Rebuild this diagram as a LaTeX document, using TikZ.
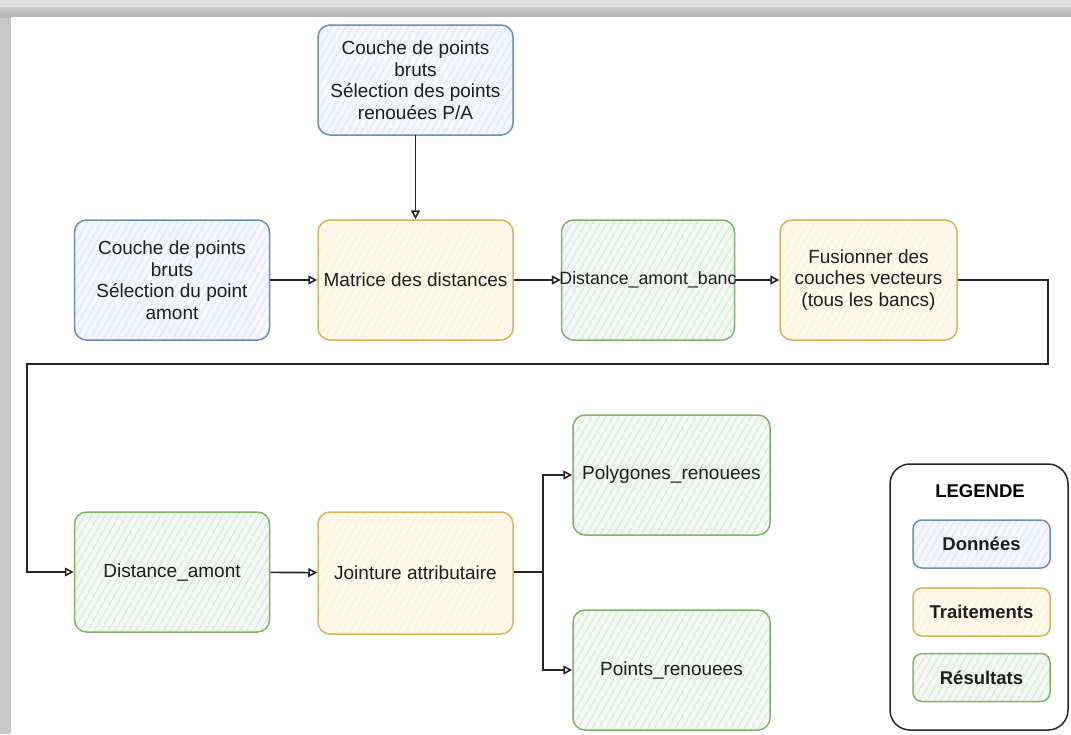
\documentclass[tikz,border=0pt]{standalone}
\usepackage{fontspec}
\setmainfont{Liberation Sans}
\usetikzlibrary{arrows.meta,patterns.meta}
\definecolor{bS}{HTML}{6C8EBF}\definecolor{bF}{HTML}{DAE8FC}
\definecolor{yS}{HTML}{D6B656}\definecolor{yF}{HTML}{FFF2CC}
\definecolor{gS}{HTML}{82B366}\definecolor{gF}{HTML}{D5E8D4}
\definecolor{txt}{HTML}{1E1E1E}
\tikzset{
  box/.style={rounded corners=12pt, line width=1.5pt, minimum width=195pt, minimum height=120pt,
    align=center, text=txt, font=\fontsize{19}{21.5}\selectfont, inner sep=2pt},
  data/.style={box, draw=bS, preaction={fill=bF!30}, pattern={Lines[angle=60,distance=6pt,line width=0.8pt]}, pattern color=bF},
  proc/.style={box, draw=yS, preaction={fill=yF!35}, pattern={Lines[angle=60,distance=6pt,line width=0.8pt]}, pattern color=yF},
  res/.style={box, draw=gS, preaction={fill=gF!30}, pattern={Lines[angle=60,distance=6pt,line width=0.8pt]}, pattern color=gF},
  legbox/.style={minimum width=137pt, minimum height=48pt, rounded corners=9pt, font=\bfseries\fontsize{18.5}{21}\selectfont},
  conn/.style={line width=1.6pt, draw=black!85},
  arr/.style={conn, -{Triangle[open,length=9pt,width=9pt]}},
}
\begin{document}
\begin{tikzpicture}[x=1pt,y=-1pt]
\useasboundingbox (0,0) rectangle (1071,734);
% window frame
\fill[gray!42] (0,0) rectangle (1071,734);
\fill[gray!22] (0,0) rectangle (1071,7);
\shade[top color=gray!40, bottom color=gray!58] (0,7) rectangle (1071,17);
\fill[white] (11,17) rectangle (1071,734);
% nodes
\node[data] (top) at (415.5,80) [minimum height=110pt] {Couche de points\\bruts\\Sélection des points\\renouées P/A};
\node[data] (src) at (172,280) {Couche de points\\bruts\\Sélection du point\\amont};
\node[proc] (mat) at (415.5,280) {Matrice des distances};
\node[res]  (dab) at (648,280) [minimum width=173pt, inner xsep=-10pt, font=\fontsize{17.8}{21}\selectfont] {Distance\_amont\_banc};
\node[proc] (fus) at (868.5,280) [minimum width=177pt] {Fusionner des\\couches vecteurs\\(tous les bancs)};
\node[res]  (da)  at (172,572) {Distance\_amont};
\node[proc] (join) at (415.5,573) [minimum height=122pt] {Jointure attributaire};
\node[res]  (poly) at (671.5,475) [minimum width=197pt] {Polygones\_renouees};
\node[res]  (pts)  at (671.5,670) [minimum width=197pt] {Points\_renouees};
% connectors
\coordinate (r1) at (1048,364);
\coordinate (r2) at (27,364);
\coordinate (br) at (543,572);
\draw[arr] (top) -- (mat);
\draw[arr] (src) -- (mat);
\draw[arr] (mat) -- (dab);
\draw[arr] (dab) -- (fus);
\draw[arr] (fus.east) -| (r1) -- (r2) |- (da.west);
\draw[arr] (da) -- (join);
\draw[conn] (join.east |- br) -- (br);
\draw[arr] (br) |- (poly.west);
\draw[arr] (br) |- (pts.west);
% legend
\node[draw=black!85, line width=1.5pt, rounded corners=20pt, minimum width=178pt, minimum height=266pt] (leg) at (979,597) {};
\node[font=\bfseries\fontsize{18.5}{21}\selectfont, text=black] (legt) at (980,491) {LEGENDE};
\node[data, legbox] (l1) at (981.5,544) {Données};
\node[proc, legbox] (l2) at (981.5,612) {Traitements};
\node[res, legbox]  (l3) at (981.5,677.5) {Résultats};
\end{tikzpicture}
\end{document}
